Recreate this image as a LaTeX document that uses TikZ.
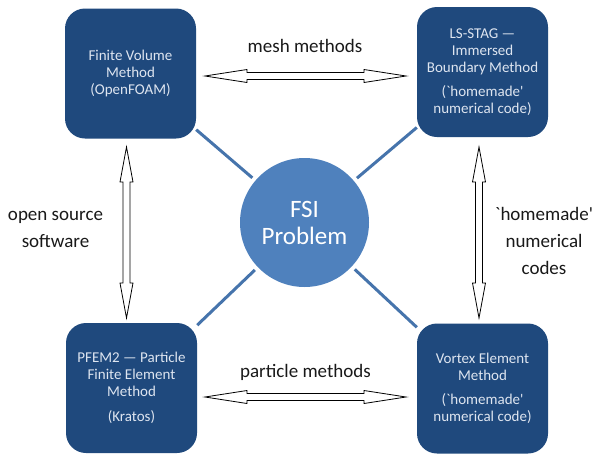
\documentclass[tikz,border=0pt]{standalone}
\usepackage{fontspec}
\setmainfont{Carlito}[Ligatures=TeXOff]
\usetikzlibrary{calc}
\definecolor{boxblue}{RGB}{31,73,125}
\definecolor{circblue}{RGB}{79,129,189}
\definecolor{linkblue}{RGB}{70,116,172}
\definecolor{boxtext}{RGB}{222,229,240}
\tikzset{
  method/.style={rectangle, rounded corners=20pt, fill=boxblue, minimum width=131pt,
    minimum height=130pt, inner sep=0pt, text=boxtext, align=center,
    font=\fontsize{15}{17}\selectfont},
  fsi/.style={circle, fill=circblue, minimum size=129pt, inner sep=0pt, text=white,
    align=center, font=\fontsize{25}{27}\selectfont},
  link/.style={draw=linkblue, line width=3pt},
  lbl/.style={align=center, font=\fontsize{19}{27}\selectfont, text=black!90, inner sep=0pt},
  barrow/.style={draw=black, line width=0.8pt, fill=white, line join=miter}
}
\newcommand\hbarrow[3]{%
  \draw[barrow] (#1) -- ($(#1)+(#3,-6.5)$) -- ($(#1)+(#3,-3.5)$) -- ($(#2)+(-#3,-3.5)$)
    -- ($(#2)+(-#3,-6.5)$) -- (#2) -- ($(#2)+(-#3,6.5)$) -- ($(#2)+(-#3,3.5)$)
    -- ($(#1)+(#3,3.5)$) -- ($(#1)+(#3,6.5)$) -- cycle;}
\newcommand\vbarrow[3]{%
  \draw[barrow] (#1) -- ($(#1)+(-6.5,#3)$) -- ($(#1)+(-3.5,#3)$) -- ($(#2)+(-3.5,-#3)$)
    -- ($(#2)+(-6.5,-#3)$) -- (#2) -- ($(#2)+(6.5,-#3)$) -- ($(#2)+(3.5,-#3)$)
    -- ($(#1)+(3.5,#3)$) -- ($(#1)+(6.5,#3)$) -- cycle;}
\begin{document}
\begin{tikzpicture}
\begin{scope}[x=1pt,y=-1pt]
  \fill[white] (0,0) rectangle (594,453);
  \useasboundingbox (0,0) rectangle (594,453);

  \node[method] (tl) at (130.5,73.5) {Finite Volume\\Method\\(OpenFOAM)};
  \node[method] (tr) at (482.5,72) {LS-STAG —\\Immersed\\Boundary Method\\[7.5pt](`homemade'\\numerical code)};
  \node[method] (bl) at (131.5,388) {PFEM2 — Particle\\Finite Element\\Method\\[7.5pt](Kratos)};
  \node[method] (br) at (482.5,388.5) {Vortex Element\\Method\\[7.5pt](`homemade'\\numerical code)};
  \node[fsi] (c) at (304.5,222.5) {FSI\\Problem};

  \draw[link, shorten >=4pt] (tl) -- (c);
  \draw[link, shorten >=4pt] (tr) -- (c);
  \draw[link, shorten >=4pt] (bl) -- (c);
  \draw[link, shorten >=4pt] (br) -- (c);

  \coordinate (ta) at (205,76);
  \coordinate (tb) at (406,76);
  \coordinate (ba) at (205,397);
  \coordinate (bb) at (406,397);
  \coordinate (la) at (126.5,147);
  \coordinate (lb) at (126.5,318);
  \coordinate (ra) at (479,147);
  \coordinate (rb) at (479,318);
  \hbarrow{ta}{tb}{42}
  \hbarrow{ba}{bb}{42}
  \vbarrow{la}{lb}{35}
  \vbarrow{ra}{rb}{35}

  \node[lbl, anchor=base] (mesh) at (305,52) {mesh methods};
  \node[lbl, anchor=base] (part) at (305.5,377) {particle methods};
  \node[lbl] (open) at (55.5,229.5) {open source\\software};
  \node[lbl] (home) at (544,240.5) {`homemade'\\numerical\\codes};
\end{scope}
\end{tikzpicture}
\end{document}
